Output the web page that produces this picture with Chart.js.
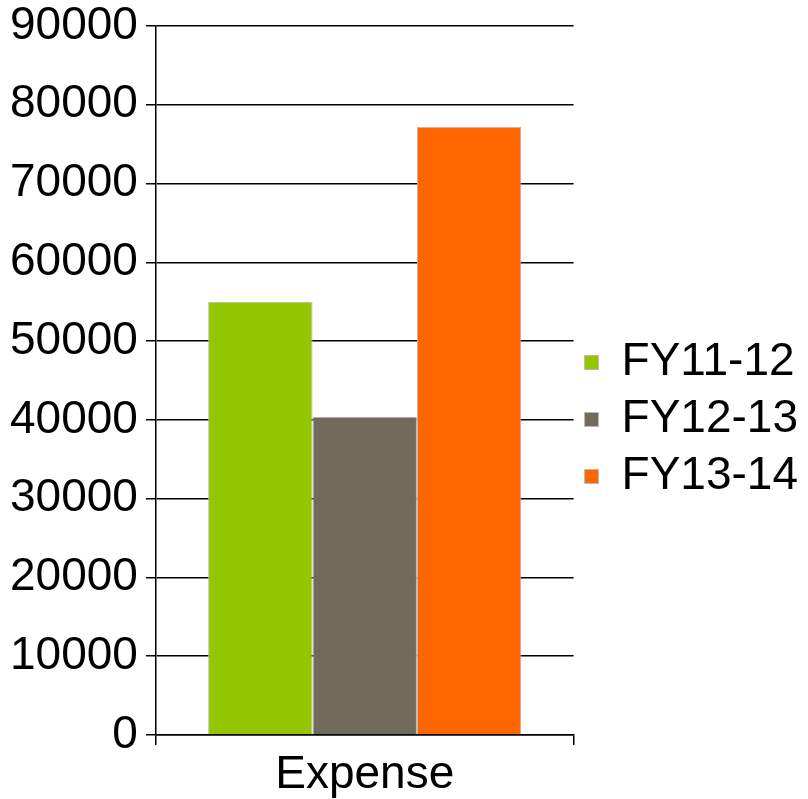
<!DOCTYPE html>
<html>
<head>
<meta charset="utf-8">
<script src="https://cdn.jsdelivr.net/npm/chart.js@4"></script>
<style>
  body { margin: 0; background: #fff; }
  #wrap { width: 808px; height: 799px; }
</style>
</head>
<body>
<div id="wrap"><canvas id="expenseChart" width="808" height="799"></canvas></div>
<script>
// data
const categories = ["Expense"]
const seriesNames = ["FY11-12", "FY12-13", "FY13-14"]
const fy1112 = [55000]
const fy1213 = [40400]
const fy1314 = [77200]
const yTicks = [0, 10000, 20000, 30000, 40000, 50000, 60000, 70000, 80000, 90000]

const colors = ["#94c600", "#726a5b", "#ff6600"]
const family = "'Liberation Sans', Arial, sans-serif"

let ctx = document.getElementById("expenseChart").getContext("2d")
new Chart(ctx, {
    type: "bar",
    data: {
        labels: categories,
        datasets: [fy1112, fy1213, fy1314].map((d, i) => ({
            label: seriesNames[i],
            data: d,
            backgroundColor: colors[i],
            borderColor: "#b8b8b8",
            borderWidth: 1,
            barPercentage: 1,
            categoryPercentage: 0.75,
        })),
    },
    options: {
        responsive: false,
        animation: false,
        layout: { padding: { top: 0, right: 0, left: 2, bottom: 0 } },
        plugins: {
            tooltip: { enabled: false },
            legend: {
                position: "right",
                maxWidth: 300,
                // empty title just pushes the entries down a bit
                title: { display: true, text: " ", font: { size: 10, lineHeight: 1 }, padding: { top: 30, bottom: 0 } },
                labels: {
                    font: { family: family, size: 46 },
                    color: "#000",
                    boxWidth: 14,
                    boxHeight: 14,
                    padding: 11,
                },
            },
        },
        scales: {
            x: {
                afterFit: (axis) => { axis.height = 64 },
                grid: {
                    offset: true,
                    drawOnChartArea: false,
                    color: "#000",
                    lineWidth: 1.5,
                    tickLength: 10,
                },
                border: { color: "#000", width: 1.5 },
                ticks: { font: { family: family, size: 46, lineHeight: 1.0 }, color: "#000", padding: 7 },
            },
            y: {
                min: 0,
                max: 90000,
                afterBuildTicks: (axis) => { axis.ticks = yTicks.map(v => ({ value: v })) },
                afterFit: (axis) => { axis.paddingTop = 26; axis.paddingBottom = 0 },
                grid: { color: "#000", lineWidth: 1.5, tickLength: 10 },
                border: { color: "#000", width: 1.5 },
                ticks: {
                    font: { family: family, size: 46, lineHeight: 0.9 },
                    color: "#000",
                    padding: 8,
                    callback: (v) => String(v),
                },
            },
        },
    },
});
</script>
</body>
</html>
